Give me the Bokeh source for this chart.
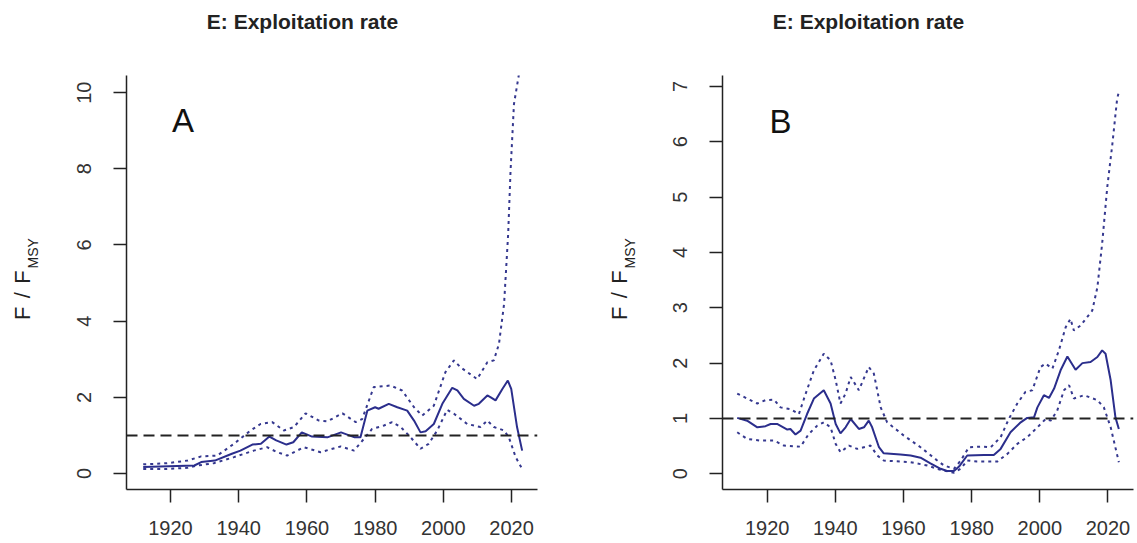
import numpy as np
from bokeh.plotting import figure
from bokeh.models import FixedTicker, Span, Label, Range1d
from bokeh.layouts import row, column
from bokeh.embed import file_html
from bokeh.resources import INLINE

# ---------------- data ----------------
title_text = "E: Exploitation rate"
panel_letters = ["A", "B"]
x_ticks = [1920, 1940, 1960, 1980, 2000, 2020]
a_y_ticks = [0, 2, 4, 6, 8, 10]
b_y_ticks = [0, 1, 2, 3, 4, 5, 6, 7]
ref_level = 1.0

a_mid_years = [1912, 1927, 1929, 1933, 1938, 1940.5, 1944, 1946.5, 1949, 1951, 1954, 1956,
               1958.5, 1961.5, 1966, 1970, 1974, 1975.7, 1977.7, 1980, 1981, 1984, 1986.5,
               1989.4, 1991.4, 1993.3, 1994.8, 1997.2, 1999.7, 2002.6, 2004.1, 2006, 2009,
               2010.4, 2012.9, 2013.9, 2015.3, 2017.3, 2018.9, 2019.9, 2021.6, 2023.1]
a_mid_vals = [0.17, 0.21, 0.30, 0.34, 0.52, 0.60, 0.76, 0.78, 0.97, 0.87, 0.76, 0.82,
              1.08, 0.97, 0.95, 1.08, 0.95, 0.95, 1.65, 1.74, 1.70, 1.83, 1.74,
              1.65, 1.39, 1.08, 1.11, 1.30, 1.83, 2.25, 2.18, 1.96, 1.78,
              1.83, 2.05, 2.00, 1.92, 2.22, 2.44, 2.22, 1.22, 0.60]

a_up_years = [1912, 1919, 1925, 1929, 1933.7, 1938.6, 1943.5, 1946.4, 1949.8, 1953.2, 1956.2,
              1959.6, 1963.5, 1966, 1970.4, 1974.3, 1976.2, 1979.6, 1984.5, 1987.9, 1991.4,
              1993.8, 1997.2, 2000.6, 2003.1, 2005, 2009.9, 2012.9, 2014.8, 2016.3, 2017.8,
              2019, 2019.7, 2020.7, 2022.1, 2023]
a_up_vals = [0.24, 0.27, 0.34, 0.45, 0.47, 0.78, 1.13, 1.30, 1.35, 1.13, 1.22,
             1.58, 1.39, 1.37, 1.58, 1.35, 1.43, 2.27, 2.31, 2.18, 1.74,
             1.52, 1.78, 2.66, 2.97, 2.79, 2.48, 2.92, 2.97, 3.40, 4.45,
             6.29, 7.95, 9.70, 10.45, 11.2]

a_lo_years = [1912, 1919, 1925, 1928, 1932.7, 1938.6, 1944.4, 1948.3, 1951.3, 1954.2, 1959.1,
              1964, 1969.9, 1973.8, 1976.7, 1979.1, 1982.6, 1985, 1987.5, 1990.4, 1993.3,
              1995.7, 1998.2, 2001.1, 2003.1, 2007, 2010.9, 2012.9, 2014.8, 2017.8, 2019.2,
              2021.2, 2023.1]
a_lo_vals = [0.12, 0.12, 0.15, 0.21, 0.27, 0.43, 0.60, 0.69, 0.56, 0.47, 0.69,
             0.56, 0.71, 0.60, 0.91, 1.17, 1.26, 1.35, 1.22, 0.95, 0.65,
             0.78, 1.13, 1.67, 1.57, 1.30, 1.22, 1.39, 1.22, 1.13, 0.95,
             0.43, 0.12]

b_mid_years = [1911.2, 1914.1, 1917.1, 1919.5, 1921, 1922.9, 1925.9, 1926.8, 1928.3, 1929.8,
               1931.7, 1933.7, 1936.6, 1938.6, 1940.1, 1941.5, 1943, 1944.5, 1946.9, 1948.4,
               1949.8, 1950.8, 1952.8, 1954.2, 1959.1, 1962.1, 1965, 1967.9, 1970.9, 1972.8,
               1974.8, 1976.3, 1978.7, 1983.6, 1986.5, 1988.5, 1991.4, 1994.4, 1996.3, 1998.3,
               1999.3, 2001.2, 2002.7, 2004.2, 2006.1, 2008.1, 2010.5, 2012.5, 2014.9, 2016.9,
               2018.3, 2019.3, 2020.8, 2022.2, 2023.2]
b_mid_vals = [1.01, 0.96, 0.84, 0.86, 0.90, 0.90, 0.80, 0.81, 0.71, 0.78,
              1.08, 1.36, 1.51, 1.27, 0.90, 0.73, 0.84, 0.99, 0.81, 0.84,
              0.96, 0.84, 0.48, 0.37, 0.35, 0.33, 0.29, 0.19, 0.09, 0.05,
              0.05, 0.13, 0.33, 0.34, 0.34, 0.45, 0.75, 0.93, 1.01, 1.02,
              1.20, 1.42, 1.37, 1.54, 1.87, 2.12, 1.88, 2.00, 2.02, 2.11,
              2.23, 2.17, 1.69, 1.02, 0.81]

b_up_years = [1911.2, 1914.1, 1917.1, 1919.5, 1922, 1923.9, 1926.8, 1929.3, 1931.3, 1933.7,
              1936.6, 1938.6, 1940.1, 1941.5, 1943, 1944.5, 1946.9, 1949.8, 1951.3, 1953.3,
              1955.2, 1960.1, 1965, 1969.9, 1971.9, 1974.8, 1976.8, 1979.2, 1982.6, 1985.6,
              1988.5, 1990.9, 1993.4, 1995.8, 1997.8, 2000.2, 2001.7, 2003.7, 2005.6, 2007.6,
              2009, 2010, 2012, 2015.4, 2016.9, 2018.3, 2019.8, 2021.3, 2022.7, 2023.2]
b_up_vals = [1.45, 1.36, 1.27, 1.33, 1.34, 1.20, 1.17, 1.08, 1.45, 1.87,
             2.17, 2.05, 1.69, 1.27, 1.45, 1.75, 1.51, 1.93, 1.81, 1.20,
             0.93, 0.69, 0.48, 0.24, 0.15, 0.09, 0.24, 0.48, 0.49, 0.48,
             0.66, 0.99, 1.27, 1.48, 1.51, 1.93, 1.99, 1.90, 2.23, 2.65,
             2.80, 2.59, 2.68, 2.95, 3.37, 4.16, 5.18, 5.96, 6.78, 6.90]

b_lo_years = [1911.2, 1914.1, 1918, 1922, 1924.9, 1929.8, 1932.2, 1934.7, 1936.6, 1938.6,
              1940.1, 1941.5, 1944, 1946.4, 1950.3, 1952.3, 1954.2, 1962.1, 1967, 1970.9,
              1974.8, 1976.8, 1978.7, 1981.6, 1987.5, 1990.5, 1993.4, 1996.3, 1999.3, 2001.7,
              2003.2, 2005.1, 2007.1, 2008.6, 2010, 2013, 2016.9, 2018.8, 2020.8, 2023.2]
b_lo_vals = [0.75, 0.63, 0.60, 0.60, 0.51, 0.49, 0.72, 0.87, 0.93, 0.84,
             0.54, 0.39, 0.51, 0.45, 0.51, 0.33, 0.24, 0.21, 0.15, 0.07,
             0.02, 0.09, 0.24, 0.22, 0.22, 0.36, 0.54, 0.66, 0.84, 0.99,
             0.96, 1.14, 1.51, 1.60, 1.36, 1.42, 1.33, 1.20, 0.84, 0.21]

# ---------------- styling ----------------
FONT = "Liberation Sans"
NAVY = "#2B2E8C"
DOT_NAVY = "#35388F"
AXIS_COL = "#222222"
TICK_COL = "#333333"
W = 1137
TOP = 40          # height of the title strip
H = 543 - TOP     # height of the panel row


def blank(width, height):
    q = figure(width=width, height=height, min_border=0, x_range=Range1d(0, width),
               y_range=Range1d(0, height), x_axis_type=None, y_axis_type=None,
               output_backend="svg", toolbar_location=None, tools="")
    q.outline_line_color = None
    q.xgrid.visible = False
    q.ygrid.visible = False
    return q


def make_titles():
    q = blank(W, TOP)
    for cx in (302, 868):
        q.add_layout(Label(x=cx, y=19, text=title_text, text_align="center",
                           text_baseline="middle", text_font=FONT,
                           text_font_style="bold", text_font_size="21px",
                           text_color="#222222"))
    return q


def make_ylabel(width, fx, sx):
    """Narrow strip holding the rotated 'F / F_MSY' label."""
    q = blank(width, H)
    for txt, yy in (("F", 214), ("/", 236), ("F", 258)):
        q.add_layout(Label(x=fx, y=yy, text=txt, angle=np.pi / 2, text_align="center",
                           text_baseline="middle", text_font=FONT,
                           text_font_size="22px", text_color="#222222"))
    q.add_layout(Label(x=sx, y=287, text="MSY", angle=np.pi / 2, text_align="center",
                       text_baseline="middle", text_font=FONT,
                       text_font_size="14px", text_color="#222222"))
    return q


def make_panel(letter, mid, up, lo, yticks, x_range, y_range, border_left, frame_w,
               border_right, letter_pos):
    p = figure(frame_width=frame_w, frame_height=414,
               min_border_left=border_left, min_border_right=border_right,
               min_border_top=75 - TOP, min_border_bottom=54,
               x_range=Range1d(*x_range), y_range=Range1d(*y_range),
               output_backend="svg", toolbar_location=None, tools="")
    p.outline_line_color = None
    p.xgrid.visible = False
    p.ygrid.visible = False
    p.background_fill_color = "white"
    p.border_fill_color = "white"

    for ax in (p.xaxis[0], p.yaxis[0]):
        ax.axis_line_color = AXIS_COL
        ax.axis_line_width = 1.5
        ax.major_tick_line_color = AXIS_COL
        ax.major_tick_line_width = 1.5
        ax.major_tick_in = 0
        ax.major_tick_out = 13
        ax.minor_tick_line_color = None
        ax.major_label_text_font = FONT
        ax.major_label_text_font_size = "20px"
        ax.major_label_text_color = TICK_COL
    p.xaxis[0].ticker = FixedTicker(ticks=x_ticks)
    p.yaxis[0].ticker = FixedTicker(ticks=yticks)
    p.xaxis[0].major_label_standoff = 18
    p.yaxis[0].major_label_standoff = 22
    p.yaxis[0].major_label_orientation = "vertical"

    p.add_layout(Span(location=ref_level, dimension="width", line_color="#222222",
                      line_width=2, line_dash="11 6"))

    p.line(up[0], up[1], line_color=DOT_NAVY, line_width=2, line_dash="3 4")
    p.line(lo[0], lo[1], line_color=DOT_NAVY, line_width=2, line_dash="3 4")
    p.line(mid[0], mid[1], line_color=NAVY, line_width=2)

    p.add_layout(Label(x=letter_pos[0], y=letter_pos[1], x_units="screen", y_units="screen",
                       text=letter, text_align="center", text_baseline="middle",
                       text_font=FONT, text_font_size="33px", text_color="#111111"))
    return p


titles = make_titles()
labA = make_ylabel(40, 21.5, 32)
pA = make_panel(panel_letters[0], (a_mid_years, a_mid_vals), (a_up_years, a_up_vals),
                (a_lo_years, a_lo_vals), a_y_ticks,
                (1907.1, 2027.6), (-0.42, 10.45), 86, 411, 43, (56.5, 369))
labB = make_ylabel(60, 39, 49.5)
pB = make_panel(panel_letters[1], (b_mid_years, b_mid_vals), (b_up_years, b_up_vals),
                (b_lo_years, b_lo_vals), b_y_ticks,
                (1906.88, 2027.5), (-0.284, 7.198), 82, 411, 4, (58, 368))

layout = column(titles, row(labA, pA, labB, pB))
open("out.html", "w").write(file_html(layout, INLINE))
